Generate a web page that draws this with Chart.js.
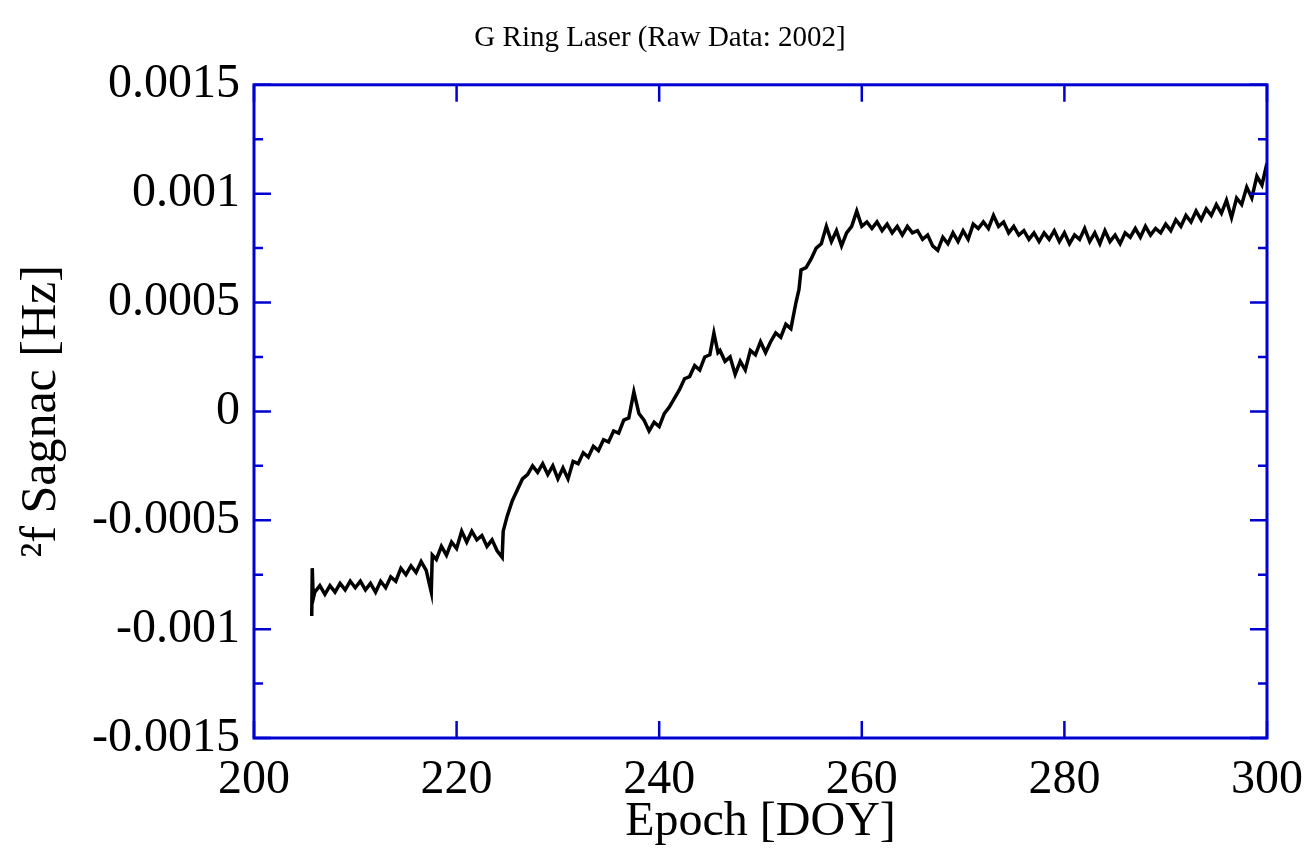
<!DOCTYPE html>
<html>
<head>
<meta charset="utf-8">
<script src="https://cdn.jsdelivr.net/npm/chart.js@4.4.0/dist/chart.umd.min.js"></script>
<style>
	html, body { margin: 0; padding: 0; background: #fff; }
	#chart { display: block; }
</style>
</head>
<body>
<canvas id="chart" width="1309" height="861"></canvas>
<script>
const chartTitle = "G Ring Laser (Raw Data: 2002]";
const xTitle = "Epoch [DOY]";
const yTitle = "\u00b2f Sagnac [Hz]";
const axisBlue = "#0000d0";

// Epoch (day of year)
const epochs = [
	205.7, 205.75, 205.85,
	206.0, 206.5, 207.0, 207.5, 208.0, 208.5, 209.0, 209.5, 210.0, 210.5,
	211.0, 211.5, 212.0, 212.5, 213.0, 213.5, 214.0, 214.5, 215.0, 215.5,
	216.0, 216.5, 217.0, 217.5, 217.6, 218.0, 218.5, 219.0, 219.5, 220.0,
	220.5, 221.0, 221.5, 222.0, 222.5, 223.0, 223.5, 224.0, 224.5, 224.6,
	225.0, 225.5, 226.0, 226.5, 227.0, 227.5, 228.0, 228.5, 229.0, 229.5,
	230.0, 230.5, 231.0, 231.5, 232.0, 232.5, 233.0, 233.5, 234.0, 234.5,
	235.0, 235.5, 236.0, 236.5, 237.0, 237.5, 238.0, 238.5, 239.0, 239.5,
	240.0, 240.5, 241.0, 241.5, 242.0, 242.5, 243.0, 243.5, 244.0, 244.5,
	245.0, 245.4, 245.8, 246.0, 246.5, 247.0, 247.5, 248.0, 248.5, 249.0,
	249.5, 250.0, 250.5, 251.0, 251.5, 252.0, 252.5, 253.0, 253.5, 253.8,
	254.0, 254.5, 255.0, 255.5, 256.0, 256.5, 257.0, 257.5, 258.0, 258.5,
	259.0, 259.5, 260.0, 260.5, 261.0, 261.5, 262.0, 262.5, 263.0, 263.5,
	264.0, 264.5, 265.0, 265.5, 266.0, 266.5, 267.0, 267.5, 268.0, 268.5,
	269.0, 269.5, 270.0, 270.5, 271.0, 271.5, 272.0, 272.5, 273.0, 273.5,
	274.0, 274.5, 275.0, 275.5, 276.0, 276.5, 277.0, 277.5, 278.0, 278.5,
	279.0, 279.5, 280.0, 280.5, 281.0, 281.5, 282.0, 282.5, 283.0, 283.5,
	284.0, 284.5, 285.0, 285.5, 286.0, 286.5, 287.0, 287.5, 288.0, 288.5,
	289.0, 289.5, 290.0, 290.5, 291.0, 291.5, 292.0, 292.5, 293.0, 293.5,
	294.0, 294.5, 295.0, 295.5, 296.0, 296.5, 297.0, 297.5, 298.0, 298.5,
	299.0, 299.5, 300.0
];

// Sagnac frequency offset [Hz]
const sagnac = [
	-0.00094, -0.00072, -0.00086,
	-0.00083, -0.00080, -0.00084, -0.00080, -0.00083, -0.00079, -0.00082, -0.00078, -0.00081, -0.00078,
	-0.00082, -0.00079, -0.00083, -0.00078, -0.00081, -0.00076, -0.00078, -0.00072, -0.00075, -0.00071,
	-0.00074, -0.00069, -0.00073, -0.00083, -0.00066, -0.00068, -0.00062, -0.00066, -0.00060, -0.00063,
	-0.00055, -0.00060, -0.00055, -0.00059, -0.00057, -0.00062, -0.00059, -0.00064, -0.00067, -0.00055,
	-0.00048, -0.00041, -0.00036, -0.00031, -0.00029, -0.00025, -0.00028, -0.00024, -0.00029, -0.00025,
	-0.00031, -0.00026, -0.00031, -0.00023, -0.00024, -0.00019, -0.00021, -0.00016, -0.00018, -0.00013,
	-0.00014, -0.00009, -0.00010, -0.00004, -0.00003, 0.00009, -0.00001, -0.00004, -0.00009, -0.00005,
	-0.00007, -0.00001, 0.00002, 0.00006, 0.00010, 0.00015, 0.00016, 0.00021, 0.00019, 0.00025,
	0.00026, 0.00036, 0.00027, 0.00028, 0.00023, 0.00025, 0.00017, 0.00023, 0.00019, 0.00028,
	0.00026, 0.00032, 0.00027, 0.00032, 0.00036, 0.00034, 0.00040, 0.00038, 0.00050, 0.00056,
	0.00065, 0.00066, 0.00070, 0.00075, 0.00077, 0.00085, 0.00078, 0.00083, 0.00076, 0.00082,
	0.00085, 0.00092, 0.00085, 0.00087, 0.00084, 0.00087, 0.00083, 0.00086, 0.00082, 0.00085,
	0.00081, 0.00085, 0.00082, 0.00083, 0.00079, 0.00081, 0.00076, 0.00074, 0.00080, 0.00077,
	0.00082, 0.00078, 0.00083, 0.00079, 0.00086, 0.00084, 0.00087, 0.00084, 0.00090, 0.00085,
	0.00087, 0.00082, 0.00085, 0.00081, 0.00083, 0.00079, 0.00082, 0.00078, 0.00082, 0.00079,
	0.00083, 0.00078, 0.00082, 0.00077, 0.00081, 0.00079, 0.00084, 0.00078, 0.00082, 0.00077,
	0.00083, 0.00078, 0.00081, 0.00077, 0.00082, 0.00080, 0.00084, 0.00080, 0.00085, 0.00081,
	0.00084, 0.00082, 0.00086, 0.00083, 0.00088, 0.00085, 0.00090, 0.00087, 0.00092, 0.00088,
	0.00093, 0.00090, 0.00095, 0.00091, 0.00097, 0.00089, 0.00098, 0.00095, 0.00103, 0.00098,
	0.00108, 0.00104, 0.00114
];

const xTicks = [200, 220, 240, 260, 280, 300];
const yTicks = [-0.0015, -0.001, -0.0005, 0, 0.0005, 0.001, 0.0015];
const yMinorTicks = [-0.00125, -0.00075, -0.00025, 0.00025, 0.00075, 0.00125];

// draws the blue frame with inward ticks on all four sides
const framePlugin = {
	id: "frame",
	afterLayout(chart) {
		// the title sits centred over the whole page, not the plot
		chart.titleBlock.left = 47;
	},
	afterDatasetsDraw(chart) {
		let ctx = chart.ctx;
		let area = chart.chartArea;
		let xs = chart.scales.x;
		let ys = chart.scales.y;
		ctx.save();
		ctx.strokeStyle = axisBlue;
		ctx.lineWidth = 3;
		ctx.strokeRect(area.left, area.top, area.right - area.left, area.bottom - area.top);
		ctx.lineWidth = 2.5;
		ctx.beginPath();
		xTicks.map((t) => {
			let px = xs.getPixelForValue(t);
			ctx.moveTo(px, area.bottom); ctx.lineTo(px, area.bottom - 17);
			ctx.moveTo(px, area.top); ctx.lineTo(px, area.top + 17);
		});
		yTicks.map((t) => {
			let py = ys.getPixelForValue(t);
			ctx.moveTo(area.left, py); ctx.lineTo(area.left + 17, py);
			ctx.moveTo(area.right, py); ctx.lineTo(area.right - 17, py);
		});
		yMinorTicks.map((t) => {
			let py = ys.getPixelForValue(t);
			ctx.moveTo(area.left, py); ctx.lineTo(area.left + 9, py);
			ctx.moveTo(area.right, py); ctx.lineTo(area.right - 9, py);
		});
		ctx.stroke();
		ctx.restore();
	}
};

new Chart(document.getElementById("chart"), {
	type: "line",
	data: {
		datasets: [{
			data: epochs.map((d, i) => ({ x: d, y: sagnac[i] })),
			borderColor: "#000",
			borderWidth: 3.5,
			pointRadius: 0,
			tension: 0,
			fill: false
		}]
	},
	options: {
		responsive: false,
		animation: false,
		layout: { padding: { left: 0, right: 36, top: 0, bottom: 0 } },
		plugins: {
			legend: { display: false },
			tooltip: { enabled: false },
			title: {
				display: true,
				text: chartTitle,
				color: "#000",
				font: { family: "Liberation Serif", size: 29, weight: "normal" },
				padding: { top: 21, bottom: 29 }
			}
		},
		scales: {
			x: {
				type: "linear",
				min: 200, max: 300,
				afterBuildTicks: (s) => { s.ticks = xTicks.map(v => ({ value: v })); },
				afterFit: (s) => { s.height = 123; },
				grid: { display: false },
				border: { display: false },
				ticks: {
					color: "#000",
					padding: 6,
					maxRotation: 0,
					font: { family: "Liberation Serif", size: 48 }
				},
				title: {
					display: true,
					text: xTitle,
					color: "#000",
					font: { family: "Liberation Serif", size: 48 },
					padding: { top: 10, bottom: 10 }
				}
			},
			y: {
				min: -0.0015, max: 0.0015,
				afterBuildTicks: (s) => { s.ticks = yTicks.map(v => ({ value: v })); },
				afterFit: (s) => { s.width = 254; },
				grid: { display: false },
				border: { display: false },
				ticks: {
					color: "#000",
					padding: 6,
					font: { family: "Liberation Serif", size: 48 },
					callback: (v) => parseFloat(v.toFixed(4)).toString()
				},
				title: {
					display: true,
					text: yTitle,
					color: "#000",
					font: { family: "Liberation Serif", size: 50 },
					padding: { top: 12, bottom: 0 }
				}
			}
		}
	},
	plugins: [framePlugin]
});
</script>
</body>
</html>
